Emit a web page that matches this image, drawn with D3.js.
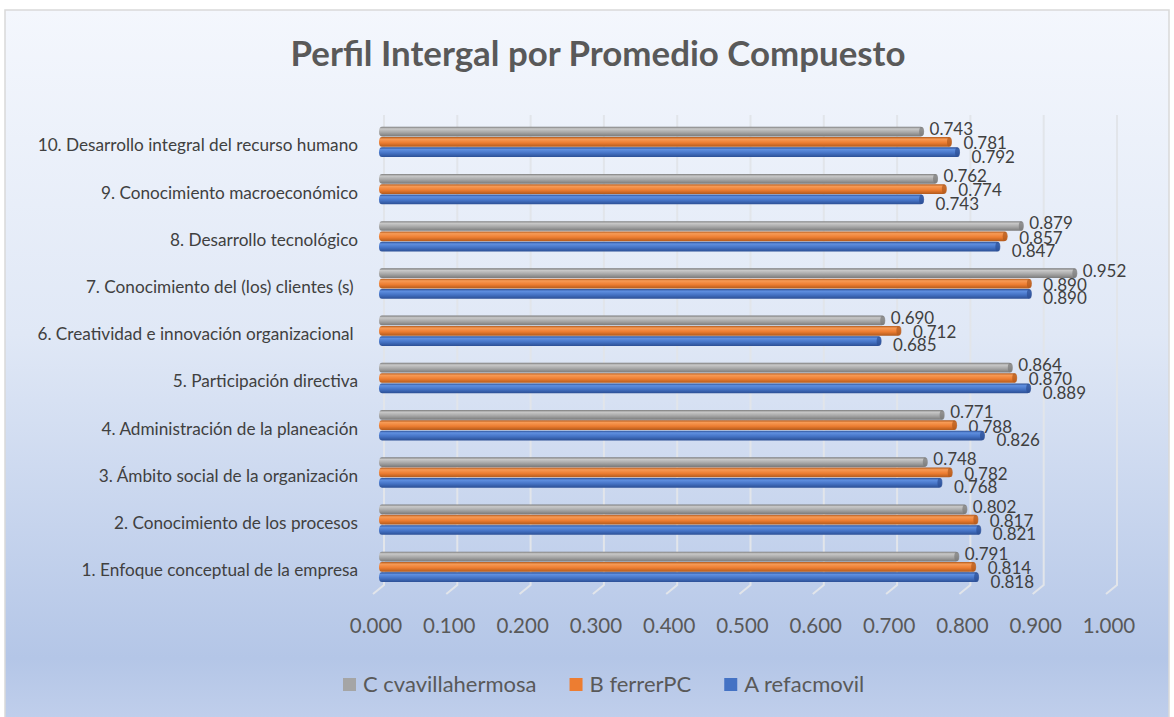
<!DOCTYPE html>
<html>
<head>
<meta charset="utf-8">
<script src="https://cdn.jsdelivr.net/npm/d3@7"></script>
<style>
  body { margin: 0; background: #fff; }
  text { font-family: Lato, "Open Sans", sans-serif; }
</style>
</head>
<body>
<svg width="1174" height="717"></svg>
<script>
// categories, bottom (1) to top (10)
var categories = [
    '1. Enfoque conceptual de la empresa',
    '2. Conocimiento de los procesos',
    '3. \u00c1mbito social de la organizaci\u00f3n',
    '4. Administraci\u00f3n de la planeaci\u00f3n',
    '5. Participaci\u00f3n directiva',
    '6. Creatividad e innovaci\u00f3n organizacional ',
    '7. Conocimiento del (los) clientes (s) ',
    '8. Desarrollo tecnol\u00f3gico',
    '9. Conocimiento macroecon\u00f3mico',
    '10. Desarrollo integral del recurso humano'
];
var seriesNames = ['C cvavillahermosa', 'B ferrerPC', 'A refacmovil'];
var valuesC = [0.791, 0.802, 0.748, 0.771, 0.864, 0.690, 0.952, 0.879, 0.762, 0.743];
var valuesB = [0.814, 0.817, 0.782, 0.788, 0.870, 0.712, 0.890, 0.857, 0.774, 0.781];
var valuesA = [0.818, 0.821, 0.768, 0.826, 0.889, 0.685, 0.890, 0.847, 0.743, 0.792];
var tickValues = [0, 0.1, 0.2, 0.3, 0.4, 0.5, 0.6, 0.7, 0.8, 0.9, 1.0];

var seriesValues = [valuesC, valuesB, valuesA];
var colors = [
    { base: '#a5a5a5', light: '#c8c8c8', dark: '#7a7a7a' },
    { base: '#ed7d31', light: '#f79a55', dark: '#b25a1c' },
    { base: '#4472c4', light: '#5f8fe0', dark: '#2c4f94' }
];

var svg = d3.select('svg');
var defs = svg.append('defs');

// background gradient
var bg = defs.append('linearGradient').attr('id', 'bg').attr('x1', 0).attr('y1', 0).attr('x2', 0).attr('y2', 1);
bg.append('stop').attr('offset', '0%').attr('stop-color', '#f4f7fd');
bg.append('stop').attr('offset', '45%').attr('stop-color', '#e0e8f6');
bg.append('stop').attr('offset', '90%').attr('stop-color', '#b4c6e7');
bg.append('stop').attr('offset', '100%').attr('stop-color', '#c2d0ec');

colors.forEach(function (c, i) {
    var g = defs.append('linearGradient').attr('id', 'bar' + i).attr('x1', 0).attr('y1', 0).attr('x2', 0).attr('y2', 1);
    g.append('stop').attr('offset', '0%').attr('stop-color', c.dark);
    g.append('stop').attr('offset', '22%').attr('stop-color', c.light);
    g.append('stop').attr('offset', '60%').attr('stop-color', c.base);
    g.append('stop').attr('offset', '100%').attr('stop-color', c.dark);
});

svg.append('rect').attr('x', 5).attr('y', 10).attr('width', 1164).attr('height', 720)
    .attr('fill', 'url(#bg)').attr('stroke', '#d9d9d9').attr('stroke-width', 1.5);

// title, fitted to the reference width
var title = svg.append('text').attr('x', 598).attr('y', 66).attr('text-anchor', 'middle')
    .attr('font-size', 32).attr('font-weight', 'bold').attr('fill', '#595959')
    .text('Perfil Intergal por Promedio Compuesto');
var tw = title.node().getComputedTextLength();
title.attr('font-size', 32 * 615 / tw);

// scales
var x = d3.scaleLinear().domain([0, 1]).range([379, 1112]);
var y = d3.scaleBand().domain(d3.range(categories.length).reverse()).range([118.4, 590.6]).padding(0);
var inner = d3.scaleBand().domain(d3.range(3)).range([8, 39]);

// back grid with 3d floor ticks
var grid = svg.append('g');
tickValues.forEach(function (t) {
    var gx = x(t) + 5;
    grid.append('path')
        .attr('d', 'M' + gx + ',115 L' + gx + ',585 L' + (gx - 11) + ',594')
        .attr('fill', 'none').attr('stroke', '#e2e5ea').attr('stroke-width', 2);
});

// tick labels
svg.append('g').selectAll('text').data(tickValues).join('text')
    .attr('x', function (d) { return x(d) - 3; })
    .attr('y', 633)
    .attr('text-anchor', 'middle')
    .attr('font-size', 20.5).attr('fill', '#595959')
    .text(function (d) { return d3.format('.3f')(d); });

// category labels
svg.append('g').selectAll('text').data(categories).join('text')
    .attr('x', 358)
    .attr('y', function (d, i) { return y(i) + y.bandwidth() / 2 + 5; })
    .attr('text-anchor', 'end').attr('dominant-baseline', 'middle')
    .attr('font-size', 17.2).attr('fill', '#404040')
    .style('white-space', 'pre')
    .text(function (d) { return d; });

// bars
var labelDx = [6, 12, 12];
var labelDy = [-1, 3, 6];
seriesValues.forEach(function (vals, s) {
    var g = svg.append('g');
    vals.forEach(function (v, i) {
        var by = y(i) + inner(s);
        var bh = inner.bandwidth();
        g.append('rect')
            .attr('x', x(0)).attr('y', by + 0.3)
            .attr('width', x(v) - x(0)).attr('height', bh - 0.6)
            .attr('rx', 3).attr('ry', bh / 2)
            .attr('fill', 'url(#bar' + s + ')');
        g.append('ellipse')
            .attr('cx', x(v) - 2).attr('cy', by + bh / 2)
            .attr('rx', 2.5).attr('ry', bh / 2 - 0.5)
            .attr('fill', colors[s].dark).attr('opacity', 0.7);
        g.append('text')
            .attr('x', x(v) + labelDx[s])
            .attr('y', by + bh / 2 + labelDy[s])
            .attr('dominant-baseline', 'middle')
            .attr('font-size', 17).attr('fill', '#404040')
            .text(d3.format('.3f')(v));
    });
});

// legend
var legend = svg.append('g');
var lx = 343;
seriesNames.forEach(function (name, s) {
    legend.append('rect').attr('x', lx).attr('y', 678).attr('width', 13).attr('height', 13)
        .attr('fill', colors[s].base);
    var t = legend.append('text').attr('x', lx + 20).attr('y', 692)
        .attr('font-size', 22).attr('fill', '#595959').text(name);
    lx += 20 + t.node().getComputedTextLength() + 33;
});
</script>
</body>
</html>
